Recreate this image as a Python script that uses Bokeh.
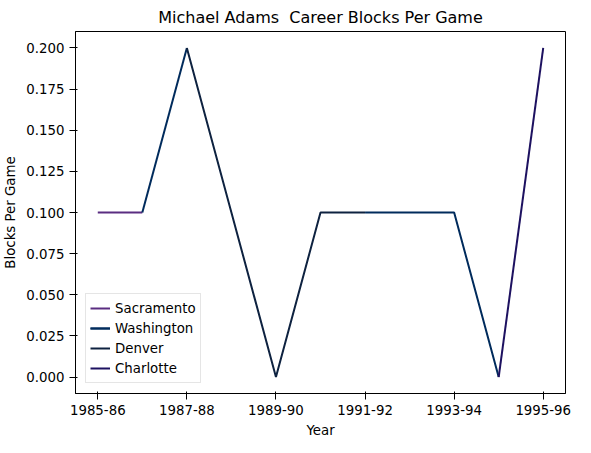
from bokeh.plotting import figure
from bokeh.embed import file_html
from bokeh.resources import INLINE
from bokeh.models import FixedTicker, Range1d, PrintfTickFormatter

seasons = ["1985-86","1986-87","1987-88","1988-89","1989-90","1990-91","1991-92","1992-93","1993-94","1994-95","1995-96"]
bpg = [0.1,0.1,0.2,0.1,0.0,0.1,0.1,0.1,0.1,0.0,0.2]
teams = [("Sacramento", [0,1], "#5A2D81"),
         ("Washington", [1,2], "#002B5C"),
         ("Denver", [2,3,4,5,6], "#0E2240"),
         ("Washington", [6,7,8,9], "#002B5C"),
         ("Charlotte", [9,10], "#1D1160")]

p = figure(width=580, height=440, output_backend="svg", toolbar_location=None,
           title="Michael Adams \u00a0Career Blocks Per Game",
           x_range=Range1d(-0.5, 10.5), y_range=Range1d(-0.01, 0.21))
for name, idx, col in teams:
    p.line(idx, [bpg[i] for i in idx], color=col, line_width=2, legend_label=name)
p.xaxis.ticker = FixedTicker(ticks=list(range(0, 11, 2)))
p.xaxis.major_label_overrides = {i: seasons[i] for i in range(0, 11, 2)}
p.yaxis.ticker = FixedTicker(ticks=[i*0.025 for i in range(9)])
p.yaxis.formatter = PrintfTickFormatter(format="%.3f")
p.xaxis.axis_label = "Year"
p.yaxis.axis_label = "Blocks Per Game"
for ax in (p.xaxis, p.yaxis):
    ax.axis_label_text_font_style = "normal"
    ax.axis_label_text_font = "DejaVu Sans"
    ax.major_label_text_font = "DejaVu Sans"
    ax.axis_label_text_font_size = "10pt"
    ax.major_label_text_font_size = "10pt"
    ax.minor_tick_line_color = None
    ax.major_label_text_color = "black"
    ax.axis_label_text_color = "black"
    ax.axis_line_color = "black"
    ax.major_tick_line_color = "black"
p.title.align = "center"
p.title.text_font = "DejaVu Sans"
p.title.text_font_style = "normal"
p.title.text_font_size = "12pt"
p.title.text_color = "black"
p.grid.visible = False
p.outline_line_color = "black"
p.legend.location = "bottom_left"
p.legend.label_text_font = "DejaVu Sans"
p.legend.label_text_font_size = "10pt"
p.legend.label_text_color = "black"
p.legend.spacing = 0
p.legend.padding = 4
p.legend.border_line_color = "#cccccc"
p.min_border_right = 15
open("out.html", "w").write(file_html(p, INLINE))
